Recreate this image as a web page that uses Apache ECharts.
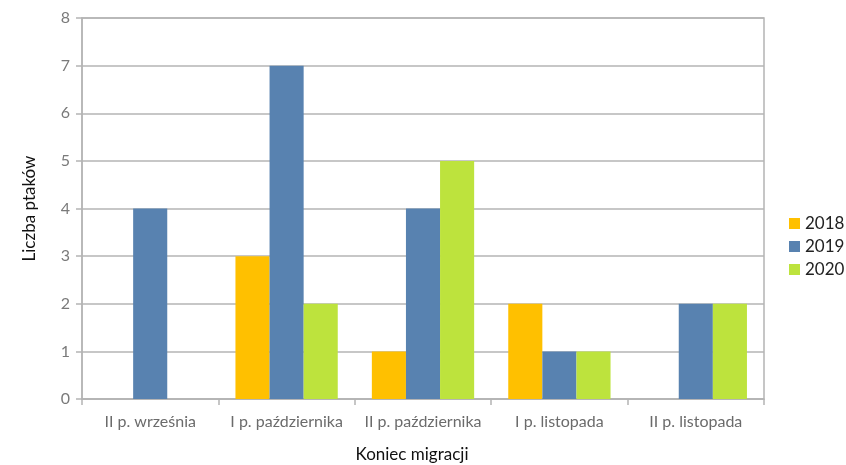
<!DOCTYPE html>
<html>
<head>
<meta charset="utf-8">
<script src="https://cdn.jsdelivr.net/npm/echarts@6/dist/echarts.min.js"></script>
<style>
  html, body { margin: 0; padding: 0; background: #fff; }
  #chart { width: 846px; height: 465px; }
</style>
</head>
<body>
<div id="chart"></div>
<script>
const categories = ['II p. września', 'I p. października', 'II p. października', 'I p. listopada', 'II p. listopada'];
const years = ['2018', '2019', '2020'];
const values2018 = [0, 3, 1, 2, 0];
const values2019 = [4, 7, 4, 1, 2];
const values2020 = [0, 2, 5, 1, 2];
const colors = ['#ffc000', '#5882b0', '#bde33d'];

const gridColor = '#b4b4b4';
const font = 'Lato, "Open Sans", sans-serif';

const chart = echarts.init(document.getElementById('chart'));
chart.setOption({
  animation: false,
  color: colors,
  grid: {
    left: 82, right: 82, top: 18, bottom: 66,
    outerBoundsMode: 'none',
    containLabel: false,
    show: true, borderColor: gridColor, borderWidth: 1.5
  },
  legend: {
    data: years,
    orient: 'vertical',
    left: 784, top: 210,
    itemWidth: 11, itemHeight: 11, itemGap: 6,
    icon: 'rect',
    textStyle: { fontFamily: font, fontSize: 17, color: '#222' }
  },
  xAxis: {
    type: 'category',
    data: categories,
    name: 'Koniec migracji',
    nameLocation: 'middle',
    nameGap: 47,
    nameTextStyle: { fontFamily: font, fontSize: 17, color: '#111', padding: [0, 22, 0, 0] },
    axisLine: { lineStyle: { color: gridColor, width: 1.5 } },
    axisTick: { show: true, length: 6, lineStyle: { color: gridColor, width: 1.5 } },
    axisLabel: { interval: 0, hideOverlap: false, fontFamily: font, fontSize: 16, color: '#6b6b6b', margin: 15 }
  },
  yAxis: {
    type: 'value',
    min: 0, max: 8, interval: 1,
    name: 'Liczba ptaków',
    nameLocation: 'middle',
    nameGap: 44,
    nameTextStyle: { fontFamily: font, fontSize: 17, color: '#111' },
    axisLine: { show: true, lineStyle: { color: gridColor, width: 1.5 } },
    axisTick: { show: true, length: 6, lineStyle: { color: gridColor, width: 1.5 } },
    axisLabel: { fontFamily: font, fontSize: 16, color: '#7a7a7a', margin: 12 },
    splitLine: { lineStyle: { color: gridColor, width: 1.5 } }
  },
  series: [
    { name: years[0], type: 'bar', data: values2018, barGap: '0%', barCategoryGap: '25%' },
    { name: years[1], type: 'bar', data: values2019, barGap: '0%', barCategoryGap: '25%' },
    { name: years[2], type: 'bar', data: values2020, barGap: '0%', barCategoryGap: '25%' }
  ]
});
</script>
</body>
</html>
